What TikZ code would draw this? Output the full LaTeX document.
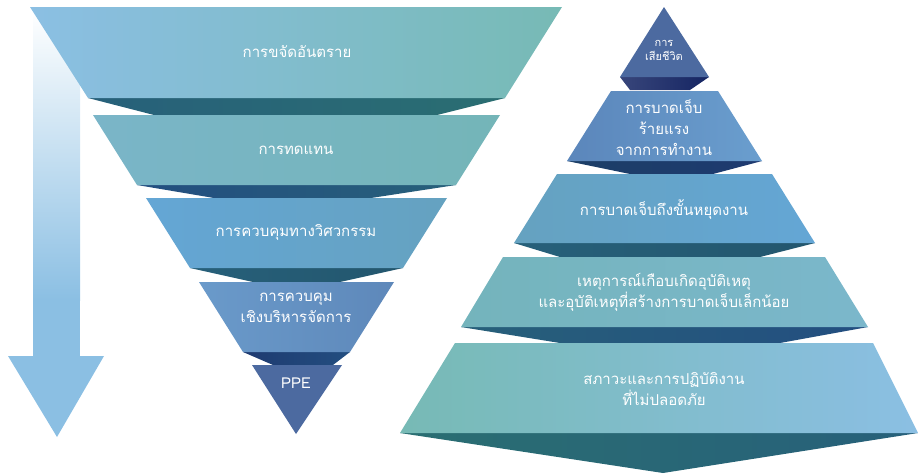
\documentclass[tikz,border=0pt]{standalone}
\usepackage{fontspec}
\newfontfamily\thaifont[Script=Thai]{Loma}
\definecolor{skyblue}{HTML}{8BBFE3}
\definecolor{seateal}{HTML}{77BAB5}
\definecolor{lvlTwoL}{HTML}{7AB5C8}
\definecolor{lvlTwoR}{HTML}{74B5B8}
\definecolor{lvlThreeL}{HTML}{64A6D5}
\definecolor{lvlThreeR}{HTML}{65A2C0}
\definecolor{lvlFourL}{HTML}{6A9ACA}
\definecolor{lvlFourR}{HTML}{5E88BA}
\definecolor{ppeblue}{HTML}{4C6AA0}
\definecolor{shTeal}{HTML}{27607A}
\definecolor{shGreen}{HTML}{2A6E72}
\definecolor{shBlue}{HTML}{234E80}
\definecolor{shNavy}{HTML}{1E3A70}
\definecolor{shInk}{HTML}{152563}
\definecolor{midL}{HTML}{5B86BB}
\definecolor{midR}{HTML}{6A9ECE}
\definecolor{topTealL}{HTML}{74B4BC}
\definecolor{topTealR}{HTML}{7BB7CB}

\begin{document}
\begin{tikzpicture}[x=1pt, y=-1pt,
  lbl/.style = {text=white, align=center, inner sep=0pt,
                font=\thaifont\fontsize{15}{21}\selectfont},
  small lbl/.style = {lbl, font=\thaifont\fontsize{11}{14}\selectfont}]
   \useasboundingbox (0,0) rectangle (918,475);

   \shade[top color=white, bottom color=skyblue] (33,10) rectangle (80,300);
   \fill[skyblue] (33,299) rectangle (80,357);
   \fill[skyblue] (8,356) -- (104,356) -- (57,437) -- cycle;

   \shade[left color=shTeal, right color=shGreen] (88,98) -- (505,98) -- (437,115) -- (154,115) -- cycle;
   \shade[left color=shBlue, right color=shTeal] (137,185) -- (456,185) -- (371,198) -- (214,198) -- cycle;
   \shade[left color=shTeal, right color=shTeal!90!black] (190,268) -- (403,268) -- (340,282) -- (253,282) -- cycle;
   \shade[left color=shNavy, right color=shBlue] (243,352) -- (350,352) -- (333,365) -- (273,365) -- cycle;

   \shade[left color=skyblue, middle color=skyblue!85!seateal, right color=seateal] (30,7) -- (562,7) -- (505,98) -- (88,98) -- cycle;
   \shade[left color=lvlTwoL, right color=lvlTwoR] (93,115) -- (500,115) -- (456,185) -- (137,185) -- cycle;
   \shade[left color=lvlThreeL, right color=lvlThreeR] (146,198) -- (447,198) -- (403,268) -- (190,268) -- cycle;
   \shade[left color=lvlFourL, right color=lvlFourR] (199,282) -- (394,282) -- (350,352) -- (243,352) -- cycle;
   \fill[ppeblue] (252,365) -- (342,365) -- (296,434) -- cycle;

   \node[lbl] (elim)   at (297,52)  {การขจัดอันตราย};
   \node[lbl] (subst)  at (296,150) {การทดแทน};
   \node[lbl] (engin)  at (296,232) {การควบคุมทางวิศวกรรม};
   \node[lbl] (admin)  at (296,308) {การควบคุม\\เชิงบริหารจัดการ};
   \node[lbl] (ppe)    at (296,383) {PPE};

   \shade[left color=shInk!85!white, right color=shInk] (620,77) -- (709,77) -- (690,90) -- (630,90) -- cycle;
   \shade[left color=shBlue!80!black, right color=shNavy] (567,161) -- (762,161) -- (713,174) -- (630,174) -- cycle;
   \shade[left color=shTeal, right color=shTeal!90!black] (514,243) -- (815,243) -- (760,257) -- (560,257) -- cycle;
   \shade[left color=shTeal, right color=shBlue] (461,327) -- (868,327) -- (780,343) -- (560,343) -- cycle;
   \shade[left color=shGreen, right color=shTeal] (400,433) -- (918,433) -- (663,473) -- cycle;

   \fill[ppeblue] (664,7) -- (709,77) -- (620,77) -- cycle;
   \shade[left color=midL, right color=midR] (611,91) -- (718,91) -- (762,161) -- (567,161) -- cycle;
   \shade[left color=lvlThreeR, right color=lvlThreeL] (557,174) -- (772,174) -- (815,243) -- (514,243) -- cycle;
   \shade[left color=topTealL, right color=topTealR] (503,257) -- (825,257) -- (868,327) -- (461,327) -- cycle;
   \shade[left color=seateal, middle color=skyblue!85!seateal, right color=skyblue] (455,343) -- (873,343) -- (918,433) -- (400,433) -- cycle;

   \node[small lbl] (death)  at (664,50)  {การ\\เสียชีวิต};
   \node[lbl] (serious)  at (664,128) {การบาดเจ็บ\\ร้ายแรง\\จากการทำงาน};
   \node[lbl] (losttime) at (664,210) {การบาดเจ็บถึงขั้นหยุดงาน};
   \node[lbl] (nearmiss) at (664,292) {เหตุการณ์เกือบเกิดอุบัติเหตุ\\และอุบัติเหตุที่สร้างการบาดเจ็บเล็กน้อย};
   \node[lbl] (unsafe)   at (664,389) {สภาวะและการปฏิบัติงาน\\ที่ไม่ปลอดภัย};
\end{tikzpicture}
\end{document}
